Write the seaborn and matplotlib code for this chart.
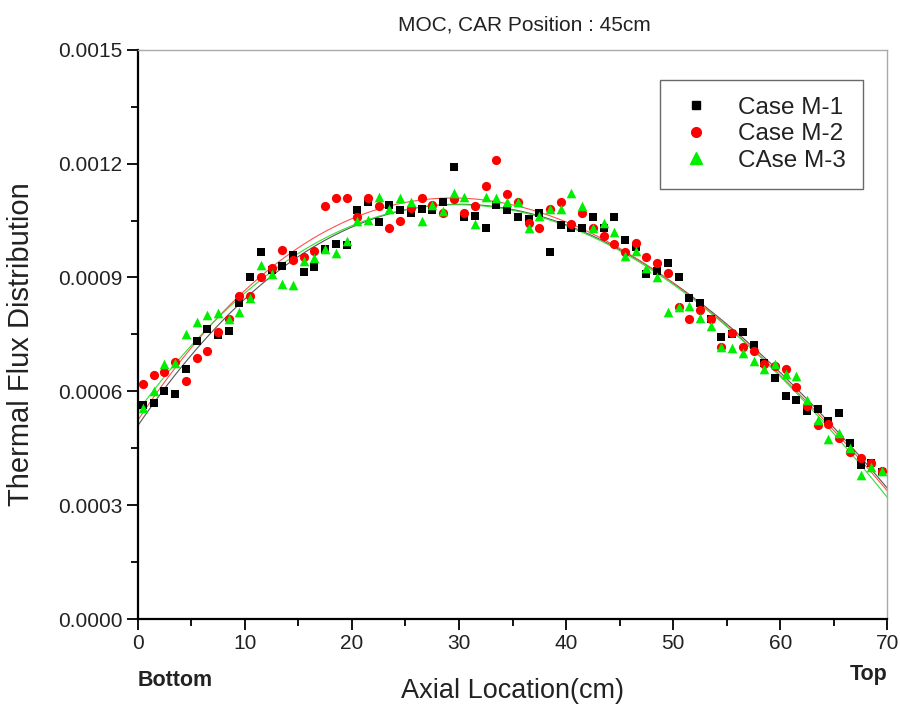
import numpy as np
import pandas as pd
import matplotlib
matplotlib.use("Agg")
import matplotlib.pyplot as plt
import seaborn as sns
from matplotlib.ticker import MultipleLocator, FormatStrFormatter
from matplotlib.lines import Line2D

# ---- data (values in units of 1e-4) ----
axial_cm = [i + 0.5 for i in range(70)]
case_m1 = [5.64, 5.70, 6.01, 5.94, 6.58, 7.32, 7.65, 7.49, 7.60, 8.32,
           9.02, 9.68, 9.20, 9.30, 9.60, 9.15, 9.27, 9.75, 9.88, 9.86,
           10.78, 11.00, 10.47, 10.90, 10.79, 10.70, 10.80, 10.78, 10.99, 11.91,
           10.59, 10.61, 10.30, 10.91, 10.78, 10.59, 10.55, 10.71, 9.68, 10.39,
           10.30, 10.30, 10.59, 10.30, 10.59, 9.99, 9.80, 9.10, 9.16, 9.39,
           9.01, 8.45, 8.34, 7.90, 7.44, 7.50, 7.57, 7.22, 6.75, 6.35,
           5.89, 5.77, 5.47, 5.54, 5.23, 5.42, 4.63, 4.06, 4.10, 3.88]
case_m2 = [6.20, 6.43, 6.50, 6.78, 6.27, 6.89, 7.05, 7.57, 7.90, 8.52,
           8.52, 9.02, 9.25, 9.73, 9.47, 9.55, 9.71, 10.89, 11.09, 11.09,
           10.59, 11.09, 10.87, 10.30, 10.50, 10.83, 11.09, 10.90, 10.71, 11.07,
           10.71, 10.89, 11.40, 12.10, 11.20, 11.00, 10.43, 10.30, 10.80, 11.00,
           10.41, 10.71, 10.30, 10.10, 9.89, 9.66, 9.92, 9.54, 9.38, 9.11,
           8.22, 7.90, 8.15, 7.90, 7.16, 7.53, 7.16, 7.05, 6.72, 6.67,
           6.58, 6.12, 5.62, 5.11, 5.14, 4.76, 4.41, 4.24, 4.12, 3.91]
case_m3 = [5.55, 6.02, 6.71, 6.76, 7.51, 7.82, 8.01, 8.06, 7.90, 8.09,
           8.45, 9.33, 9.09, 8.83, 8.81, 9.44, 9.52, 9.75, 9.64, 9.97,
           10.50, 10.52, 11.13, 10.81, 11.10, 11.00, 10.50, 10.91, 10.75, 11.22,
           11.12, 10.41, 11.12, 11.09, 11.00, 11.00, 10.30, 10.61, 10.80, 10.80,
           11.22, 10.89, 10.30, 10.43, 10.21, 9.57, 9.71, 9.25, 9.01, 8.10,
           8.22, 8.25, 7.93, 7.71, 7.16, 7.14, 7.02, 6.81, 6.58, 6.72,
           6.46, 6.41, 5.77, 5.25, 4.74, 4.90, 4.50, 3.80, 4.02, 3.89]
series_names = ["Case M-1", "Case M-2", "CAse M-3"]
series_values = [case_m1, case_m2, case_m3]
colors = ["#000000", "#ff0000", "#00ee00"]
fit_colors = ["#555555", "#ff5050", "#30e030"]
markers = ["s", "o", "^"]
x_ticks = [0, 10, 20, 30, 40, 50, 60, 70]
y_ticks = [0.0, 0.0003, 0.0006, 0.0009, 0.0012, 0.0015]

frames = []
for name, vals in zip(series_names, series_values):
    frames.append(pd.DataFrame({"x": axial_cm,
                                "y": np.array(vals) * 1e-4,
                                "case": name}))
df = pd.concat(frames, ignore_index=True)

sns.set_theme(style="white")
plt.rcParams["font.family"] = ["Liberation Sans", "DejaVu Sans"]

fig = plt.figure(figsize=(9, 7.1), dpi=100)
ax = fig.add_axes([0.153, 0.128, 0.833, 0.802])
ax.set_xlim(0, 70)
ax.set_ylim(0, 0.0015)

# fitted curves
for name, fc in zip(series_names, fit_colors):
    sub = df[df["case"] == name]
    sns.regplot(data=sub, x="x", y="y", order=3, ci=None, scatter=False,
                truncate=False, ax=ax,
                line_kws=dict(color=fc, lw=0.8, zorder=1))

sizes = {"Case M-1": 36, "Case M-2": 44, "CAse M-3": 48}
for name, c, m in zip(series_names, colors, markers):
    sub = df[df["case"] == name]
    sns.scatterplot(data=sub, x="x", y="y", color=c, marker=m,
                    s=sizes[name], linewidth=0, ax=ax, zorder=3)

ax.set_xlim(0, 70)
ax.set_ylim(0, 0.0015)
ax.set_xticks(x_ticks)
ax.set_yticks(y_ticks)
ax.xaxis.set_minor_locator(MultipleLocator(5))
ax.yaxis.set_minor_locator(MultipleLocator(0.00015))
ax.yaxis.set_major_formatter(FormatStrFormatter("%.4f"))
ax.tick_params(axis="both", which="major", direction="out", length=8,
               width=1.3, labelsize=15, color="black", labelcolor="#222222",
               bottom=True, left=True, top=False, right=False, pad=3)
ax.tick_params(axis="both", which="minor", direction="out", length=5,
               width=1.3, color="black", bottom=True, left=True,
               top=False, right=False)

for s in ["left", "bottom"]:
    ax.spines[s].set_color("black")
    ax.spines[s].set_linewidth(1.6)
for s in ["top", "right"]:
    ax.spines[s].set_color("#aaaaaa")
    ax.spines[s].set_linewidth(1.0)

ax.set_xlabel("Axial Location(cm)", fontsize=19.5, color="#222222", labelpad=18)
ax.set_ylabel("Thermal Flux Distribution", fontsize=21, color="#222222")
ax.yaxis.set_label_coords(-0.137, 0.483)
ax.set_title("MOC, CAR Position : 45cm", fontsize=15, color="#222222", pad=14,
             x=0.516)

ax.text(0, -0.108, "Bottom", transform=ax.transAxes, fontsize=15.5,
        fontweight="bold", ha="left", va="center", color="#222222")
ax.text(1.0, -0.098, "Top", transform=ax.transAxes, fontsize=15.5,
        fontweight="bold", ha="right", va="center", color="#222222")

handles = [Line2D([], [], linestyle="none", marker=m, color=c, markersize=ms)
           for m, c, ms in zip(markers, colors, [5.5, 7, 8])]
leg = ax.legend(handles, series_names, loc="upper right",
                bbox_to_anchor=(0.967, 0.947), fontsize=17.5, frameon=True,
                fancybox=False, edgecolor="#444444", handletextpad=0.9,
                borderpad=0.7, labelspacing=0.18, handlelength=1.6,
                borderaxespad=0)
leg.get_frame().set_linewidth(1.0)
for t in leg.get_texts():
    t.set_color("#222222")

fig.savefig("out.png", dpi=100)
